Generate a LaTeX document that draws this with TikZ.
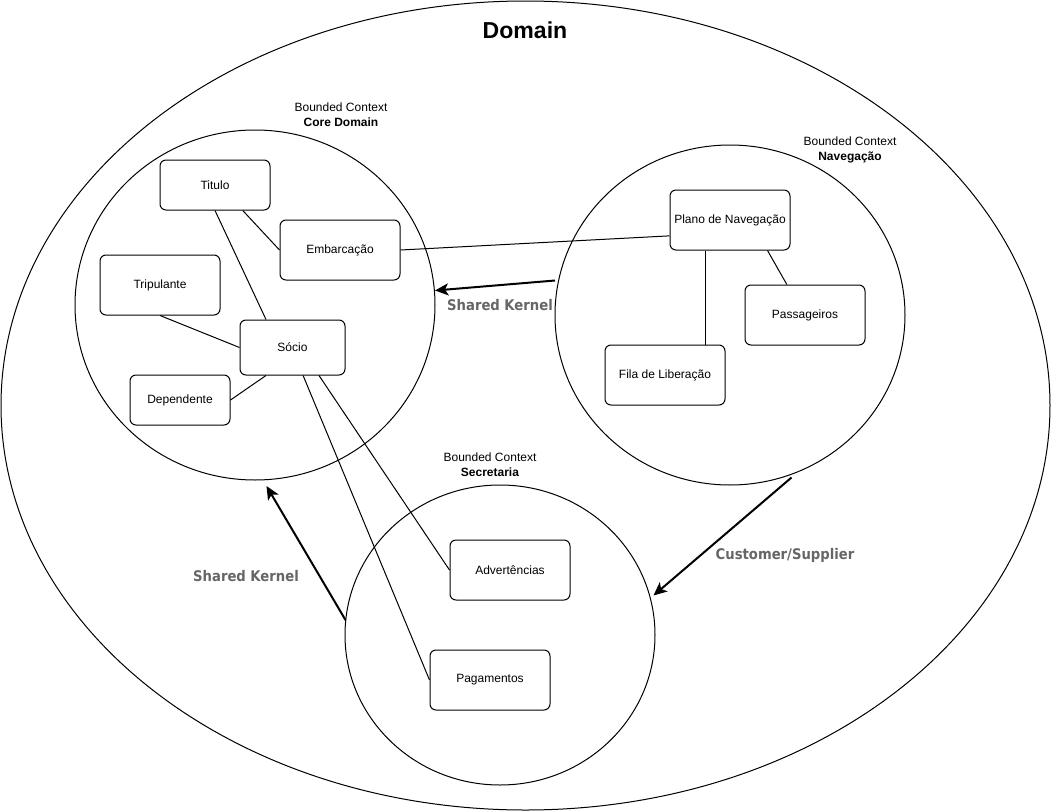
\documentclass[tikz,border=0pt]{standalone}
\usepackage{fontspec}
\setmainfont{Liberation Sans}
\newfontfamily\labfont{DejaVu Sans Condensed}
\usetikzlibrary{shapes.geometric,arrows.meta,calc}
\definecolor{labgray}{HTML}{666666}
\begin{document}
\begin{tikzpicture}[x=0.75pt,y=-0.75pt,
  ctx/.style={draw,ellipse,inner sep=0pt,outer sep=0pt,line width=0.75pt},
  ent/.style={draw,rounded corners=4.5pt,line width=0.75pt,inner sep=0pt,
    minimum width=90pt,minimum height=45pt,font=\fontsize{9pt}{11pt}\selectfont},
  link/.style={line width=0.75pt},
  rel/.style={line width=1.5pt,-{Stealth[length=10pt,width=9pt,inset=2.5pt]}},
  bc/.style={align=center,inner sep=0pt,font=\fontsize{9pt}{11.25pt}\selectfont},
  rellab/.style={inner sep=0pt,text=labgray,font=\labfont\bfseries\fontsize{11pt}{13pt}\selectfont}]
\useasboundingbox (0,0) rectangle (1051,811);

% domain
\node[ctx,minimum width=1049*0.75pt,minimum height=809*0.75pt] (domain) at (525.5,405.5) {};
\node[inner sep=0pt,font=\bfseries\fontsize{17.3pt}{20pt}\selectfont] (domlab) at (525,30) {Domain};

% bounded contexts
\node[ctx,minimum width=360*0.75pt,minimum height=350*0.75pt] (core) at (255,305) {};
\node[ctx,minimum width=350*0.75pt,minimum height=340*0.75pt] (nav) at (730,315) {};
\node[ctx,minimum width=310*0.75pt,minimum height=300*0.75pt] (sec) at (500,635) {};

\node[bc] (corelab) at (341,114.5) {Bounded Context\\\textbf{Core Domain}};
\node[bc] (navlab) at (850,150) {Bounded Context\\\textbf{Navegação}};
\node[bc] (seclab) at (490,465) {Bounded Context\\\textbf{Secretaria}};

% entities
\node[ent,minimum width=110*0.75pt,minimum height=50*0.75pt] (titulo) at (215,185) {Titulo};
\node[ent] (embarc) at (340,250) {Embarcação};
\node[ent] (trip) at (160,285) {Tripulante};
\node[ent,minimum width=105*0.75pt,minimum height=55*0.75pt] (socio) at (292.5,347.5) {Sócio};
\node[ent,minimum width=100*0.75pt,minimum height=50*0.75pt] (dep) at (180,400) {Dependente};
\node[ent] (plano) at (730,220) {Plano de Navegação};
\node[ent] (pass) at (805,315) {Passageiros};
\node[ent] (fila) at (665,375) {Fila de Liberação};
\node[ent] (adv) at (510,570) {Advertências};
\node[ent] (pag) at (490,680) {Pagamentos};

% links
\draw[link] ($(titulo.south west)!0.75!(titulo.south east)$) -- (embarc.west);
\draw[link] (titulo.south) -- ($(socio.north west)!0.25!(socio.north east)$);
\draw[link] (trip.south) -- (socio.west);
\draw[link] (dep.east) -- ($(socio.south west)!0.25!(socio.south east)$);
\draw[link] ($(socio.south west)!0.75!(socio.south east)$) -- (adv.west);
\draw[link] ($(socio.south west)!0.6!(socio.south east)$) -- (pag.west);
\draw[link] ($(plano.north west)!0.76!(plano.south west)$) -- (embarc.east);
\coordinate (pf) at ($(plano.south west)!0.3!(plano.south east)$);
\draw[link] (pf) -- (pf |- fila.north);
\draw[link] ($(plano.south west)!0.81!(plano.south east)$) -- ($(pass.north west)!0.35!(pass.north east)$);

% relations
\coordinate (sk1s) at (555,280.5);
\coordinate (sk1e) at (435,290.5);
\coordinate (sk2s) at (345.5,620);
\coordinate (sk2e) at (266.5,486);
\coordinate (css) at (791.5,477.5);
\coordinate (cse) at (653.5,595.5);
\draw[rel] (sk1s) -- (sk1e);
\draw[rel] (sk2s) -- (sk2e);
\draw[rel] (css) -- (cse);
\node[rellab] (sk1lab) at (500,305) {Shared Kernel};
\node[rellab] (sk2lab) at (246,576) {Shared Kernel};
\node[rellab] (cslab) at (785,555) {Customer/Supplier};
\end{tikzpicture}
\end{document}
